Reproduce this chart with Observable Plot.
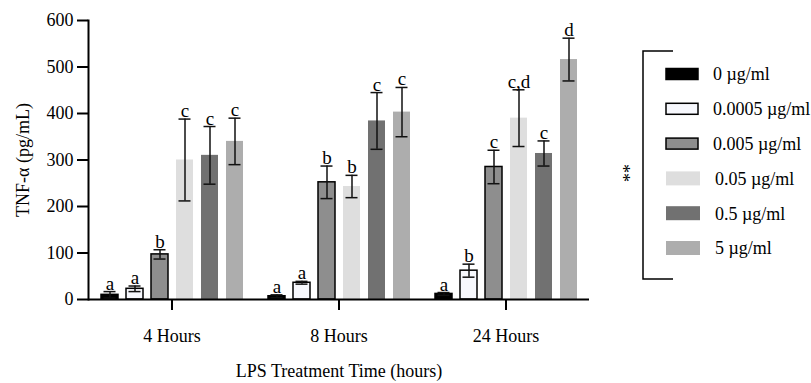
<!DOCTYPE html>
<html><head><meta charset="utf-8">
<script src="https://cdn.jsdelivr.net/npm/d3@7"></script>
<script src="https://cdn.jsdelivr.net/npm/@observablehq/plot@0.6"></script>
<style>
body{margin:0;background:#fff;}
#wrap{position:relative;width:811px;height:383px;font-family:"Liberation Serif","Times New Roman",serif;}
#wrap svg{position:absolute;left:0;top:0;}
</style></head><body><div id="wrap"></div>
<script>
const times = ["4 Hours", "8 Hours", "24 Hours"];
const concs = ["0 µg/ml", "0.0005 µg/ml", "0.005 µg/ml", "0.05 µg/ml", "0.5 µg/ml", "5 µg/ml"];
const fills = ["#000000", "#f7f8fd", "#8e8e8e", "#dedede", "#717171", "#adadad"];
const outlined = [true, true, true, false, false, false];
const means4 = [10, 23, 97, 300, 310, 340];
const errs4 = [7, 6, 10, 88, 62, 50];
const letters4 = ["a", "a", "b", "c", "c", "c"];
const means8 = [7, 36, 252, 243, 384, 403];
const errs8 = [3, 3, 35, 24, 61, 53];
const letters8 = ["a", "a", "b", "b", "c", "c"];
const means24 = [12, 62, 285, 390, 314, 516];
const errs24 = [3, 14, 36, 61, 27, 46];
const letters24 = ["a", "b", "c", "c,d", "c", "d"];
const yTicks = [0, 100, 200, 300, 400, 500, 600];

const groups = [[means4, errs4, letters4], [means8, errs8, letters8], [means24, errs24, letters24]];
const rows = [];
times.forEach((t, gi) => {
  const [m, e, l] = groups[gi];
  concs.forEach((c, i) => rows.push({time: t, conc: c, mean: m[i], err: e[i], letter: l[i], outlined: outlined[i]}));
});

const font = '"Liberation Serif","Times New Roman",serif';
const chart = Plot.plot({
  width: 811, height: 383,
  marginLeft: 87, marginRight: 222, marginTop: 20, marginBottom: 84,
  style: {fontFamily: font, fontSize: "17px", color: "#000", background: "transparent"},
  fx: {domain: times, padding: 0},
  x: {domain: concs, paddingInner: 0.33, paddingOuter: 0.45, axis: null},
  y: {domain: [0, 600]},
  color: {domain: concs, range: fills},
  marks: [
    Plot.barY(rows.filter(d => !d.outlined), {fx: "time", x: "conc", y: "mean", fill: "conc"}),
    Plot.barY(rows.filter(d => d.outlined), {fx: "time", x: "conc", y: "mean", fill: "conc", stroke: "#000", strokeWidth: 1.5}),
    Plot.ruleX(rows, {fx: "time", x: "conc", y1: d => d.mean - d.err, y2: d => d.mean + d.err, stroke: "#111", strokeWidth: 1.5}),
    Plot.tickY(rows, {fx: "time", x: "conc", y: d => d.mean + d.err, stroke: "#111", strokeWidth: 1.5, insetLeft: 2.5, insetRight: 2.5}),
    Plot.tickY(rows, {fx: "time", x: "conc", y: d => d.mean - d.err, stroke: "#111", strokeWidth: 1.5, insetLeft: 2.5, insetRight: 2.5}),
    Plot.text(rows, {fx: "time", x: "conc", y: d => d.mean + d.err, text: "letter", dy: -2, lineAnchor: "bottom", fontSize: 19, fill: "#000"}),
    Plot.ruleY([0], {stroke: "#000", strokeWidth: 2}),
    Plot.frame({anchor: "left", facetAnchor: "left", stroke: "#000", strokeWidth: 2}),
    Plot.axisY({ticks: yTicks, tickSize: 11, tickPadding: 4, strokeWidth: 2, fontSize: 18,
      label: "TNF-α (pg/mL)", labelAnchor: "center", labelArrow: "none", labelOffset: 72}),
    Plot.axisFx({anchor: "bottom", tickSize: 11, tickPadding: 19, strokeWidth: 2, fontSize: 18,
      label: "LPS Treatment Time (hours)", labelAnchor: "center", labelArrow: "none", labelOffset: 77})
  ]
});
document.getElementById("wrap").appendChild(chart);

// legend
const lg = d3.select("#wrap").append("svg").attr("width", 811).attr("height", 383)
  .style("font-family", font);
const ly = d3.scalePoint(concs, [74, 248]);
lg.append("path").attr("d", "M673,51H643V279H673").attr("fill", "none").attr("stroke", "#000").attr("stroke-width", 1.5);
lg.append("text").attr("transform", "translate(621,173) rotate(90)").attr("text-anchor", "middle")
  .attr("dominant-baseline", "middle").attr("font-size", 18).text("**");
concs.forEach((c, i) => {
  const y = ly(c);
  if (outlined[i]) {
    lg.append("rect").attr("x", 666).attr("y", y - 5.5).attr("width", 32).attr("height", 11)
      .attr("fill", fills[i]).attr("stroke", "#000").attr("stroke-width", 1.5);
  } else {
    lg.append("rect").attr("x", 666).attr("y", y - 7).attr("width", 34).attr("height", 14).attr("fill", fills[i]);
  }
  lg.append("text").attr("x", outlined[i] ? 713 : 715).attr("y", y).attr("dy", "0.35em")
    .attr("font-size", 18).text(c);
});
</script></body></html>
